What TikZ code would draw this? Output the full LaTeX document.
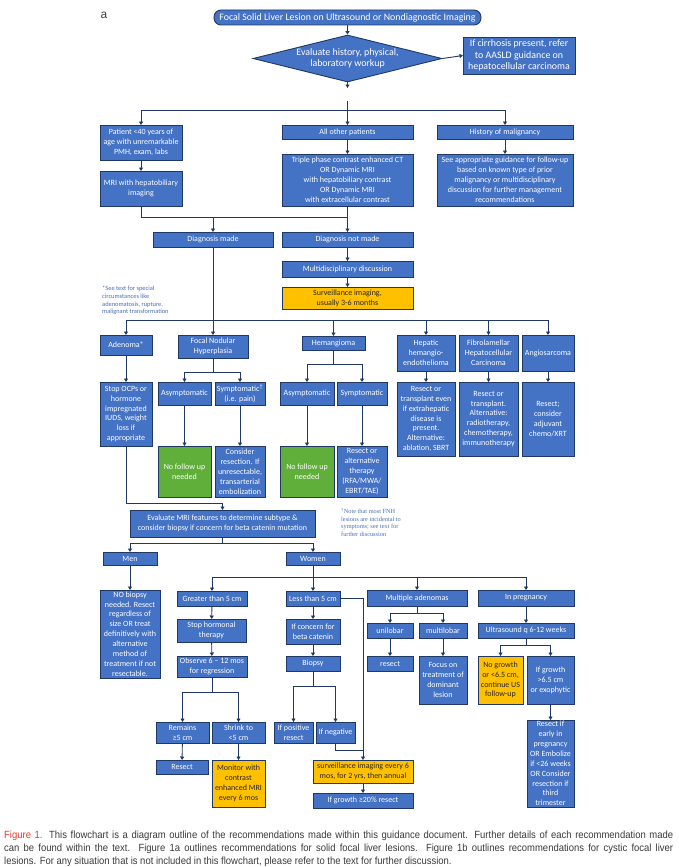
\documentclass[tikz,border=0pt]{standalone}
\usepackage{fontspec}
\setmainfont{Carlito}
\newfontfamily\capfont[FakeStretch=0.91]{Liberation Sans}
\newfontfamily\notefont{Liberation Serif}
\newfontfamily\afont{Liberation Sans}
\usetikzlibrary{arrows.meta,shapes.geometric}
\definecolor{bfill}{HTML}{4472C4}
\definecolor{bdraw}{HTML}{203864}
\definecolor{lnav}{HTML}{1F3864}
\definecolor{yfill}{HTML}{FFC000}
\definecolor{gfill}{HTML}{5FAF3A}
\definecolor{notec}{HTML}{4A6FB5}
\definecolor{capred}{HTML}{E2392D}
\definecolor{capgray}{HTML}{3A3A3A}
\tikzset{
 box/.style={rectangle,draw=bdraw,fill=bfill,text=white,line width=0.9pt,inner sep=0pt,outer sep=0pt,align=center,font=\fontsize{8.0}{9.9}\selectfont},
 ybox/.style={fill=yfill,text=black!85},
 gbox/.style={fill=gfill},
 big/.style={font=\fontsize{9.9}{11.5}\selectfont},
 arr/.style={draw=lnav,line width=0.9pt,-{Triangle[length=3.5pt,width=4pt]}},
 ln/.style={draw=lnav,line width=0.9pt},
}
\newcommand{\bx}[7][]{\node[box,#1,minimum width={(#5)-(#3)},minimum height={(#6)-(#4)}] (#2) at ({((#3)+(#5))/2},{((#4)+(#6))/2}) {#7};}
\begin{document}
\begin{tikzpicture}[x=1pt,y=-1pt]
\fill[white] (0,0) rectangle (679,867);
\useasboundingbox (0,0) rectangle (679,867);
\node[font=\afont\fontsize{12}{12}\selectfont,text=black!75,anchor=center] (lbl) at (104,15) {a};
% top
\bx[big,rounded corners=7pt]{title}{214}{10}{481}{25}{Focal Solid Liver Lesion on Ultrasound or Nondiagnostic Imaging}
\node[diamond,draw=bdraw,fill=bfill,text=white,line width=0.9pt,aspect=4,minimum width=189,minimum height=47,inner sep=0pt,big,align=center] (dia) at (347.5,58.5) {Evaluate history, physical,\\laboratory workup};
\bx[big]{cirr}{463}{37}{575}{74}{If cirrhosis present, refer\\to AASLD guidance on\\hepatocellular carcinoma}
% row 2
\bx{patient}{100}{125}{182}{160}{Patient <40 years of\\age with unremarkable\\PMH, exam, labs}
\bx{mri}{100}{171}{182}{206}{MRI with hepatobiliary\\imaging}
\bx{allother}{282}{125}{413}{139}{All other patients}
\bx{triple}{282}{154}{413}{206}{Triple phase contrast enhanced CT\\OR Dynamic MRI\\with hepatobiliary contrast\\OR Dynamic MRI\\with extracellular contrast}
\bx{hist}{437}{125}{573}{139}{History of malignancy}
\bx{seeapp}{437}{154}{573}{206}{See appropriate guidance for follow-up\\based on known type of prior\\malignancy or multidisciplinary\\discussion for further management\\recommendations}
\bx{dxmade}{153}{232}{273}{247}{Diagnosis made}
\bx{dxnot}{282}{232}{413}{247}{Diagnosis not made}
\bx{multi}{282}{261}{413}{277}{Multidisciplinary discussion}
\bx[ybox]{surv}{282}{287}{413}{309}{Surveillance imaging,\\usually 3-6 months}
\node[anchor=north west,align=left,text=notec,inner sep=0pt,font=\fontsize{6.4}{7.7}\selectfont] (note1) at (102,286) {*See text for special\\circumstances like\\adenomatosis, rupture,\\malignant transformation};
% diagnoses
\bx{adenoma}{100}{335}{152}{355}{Adenoma*}
\bx{fnh}{178}{335}{248}{358}{Focal Nodular\\Hyperplasia}
\bx{hem}{302}{336}{365}{350}{Hemangioma}
\bx{hhe}{397}{335}{455}{371}{Hepatic\\hemangio-\\endothelioma}
\bx{fib}{459}{335}{518}{371}{Fibrolamellar\\Hepatocellular\\Carcinoma}
\bx{angio}{522}{335}{574}{371}{Angiosarcoma}
\bx{stopocp}{100}{382}{152}{446}{Stop OCPs or\\hormone\\impregnated\\IUDS, weight\\loss if\\appropriate}
\bx{asym1}{158}{382}{211}{405}{Asymptomatic}
\bx{symp1}{215}{382}{265}{405}{Symptomatic\textsuperscript{†}\\(i.e. pain)}
\bx{asym2}{280}{382}{334}{405}{Asymptomatic}
\bx{symp2}{337}{382}{387}{405}{Symptomatic}
\bx{hhe2}{397}{382}{455}{456}{Resect or\\transplant even\\if extrahepatic\\disease is\\present.\\Alternative:\\ablation, SBRT}
\bx{fib2}{459}{382}{518}{456}{Resect or\\transplant.\\Alternative:\\radiotherapy,\\chemotherapy,\\immunotherapy}
\bx{angio2}{522}{382}{574}{456}{Resect;\\consider\\adjuvant\\chemo/XRT}
\bx[gbox]{nofu1}{158}{446}{211}{497}{No follow up\\needed}
\bx{consider}{215}{446}{265}{497}{Consider\\resection. If\\unresectable,\\transarterial\\embolization}
\bx[gbox]{nofu2}{280}{446}{334}{497}{No follow up\\needed}
\bx{resalt}{337}{446}{387}{497}{Resect or\\alternative\\therapy\\(RFA/MWA/\\EBRT/TAE)}
\node[anchor=north west,align=left,text=notec,inner sep=0pt,font=\notefont\fontsize{6.3}{7.5}\selectfont] (note2) at (341,508) {\textsuperscript{†}Note that most FNH\\lesions are incidental to\\symptoms; see text for\\further discussion};
% adenoma workup
\bx{evalmri}{130}{510}{315}{537}{Evaluate MRI features to determine subtype \&\\consider biopsy if concern for beta catenin mutation}
\bx{men}{103}{552}{157}{565}{Men}
\bx{women}{286}{552}{340}{565}{Women}
\bx{nobiop}{100}{590}{160}{678}{NO biopsy\\needed. Resect\\regardless of\\size OR treat\\definitively with\\alternative\\method of\\treatment if not\\resectable.}
\bx{gt5}{177}{591}{247}{606}{Greater than 5 cm}
\bx{stophorm}{177}{619}{246}{642}{Stop hormonal\\therapy}
\bx{observe}{177}{656}{247}{677}{Observe 6 – 12 mos\\for regression}
\bx{remains}{156}{722}{209}{743}{Remains\\≥5 cm}
\bx{shrink}{212}{722}{265}{743}{Shrink to\\<5 cm}
\bx{resect1}{156}{760}{208}{774}{Resect}
\bx[ybox]{monitor}{212}{760}{265}{807}{Monitor with\\contrast\\enhanced MRI\\every 6 mos}
\bx{lt5}{286}{591}{340}{606}{Less than 5 cm}
\bx{concern}{286}{619}{340}{644}{If concern for\\beta catenin}
\bx{biopsy}{286}{656}{340}{671}{Biopsy}
\bx{ifpos}{274}{722}{313}{743}{If positive\\resect}
\bx{ifneg}{316}{722}{355}{743}{If negative}
\bx[ybox]{surv2}{313}{760}{413}{783}{surveillance imaging every 6\\mos, for 2 yrs, then annual}
\bx{growth}{313}{793}{413}{808}{If growth ≥20\% resect}
\bx{multad}{367}{590}{467}{606}{Multiple adenomas}
\bx{unilobar}{367}{623}{413}{638}{unilobar}
\bx{multilobar}{419}{623}{467}{638}{multilobar}
\bx{resect2}{367}{656}{413}{671}{resect}
\bx{focus}{419}{656}{467}{704}{Focus on\\treatment of\\dominant\\lesion}
\bx{preg}{478}{590}{574}{606}{In pregnancy}
\bx{us}{478}{623}{574}{638}{Ultrasound q 6-12 weeks}
\bx[ybox]{nogrowth}{478}{656}{523}{704}{No growth\\or <6.5 cm,\\continue US\\follow-up}
\bx{ifgrowth}{527}{656}{574}{704}{If growth\\>6.5 cm\\or exophytic}
\bx{resectif}{527}{720}{574}{807}{Resect if\\early in\\pregnancy\\OR Embolize\\if <26 weeks\\OR Consider\\resection if\\third\\trimester}
% junction coordinates
\coordinate (d1) at (347.5,88);
\coordinate (d2) at (347.5,101);
\coordinate (b1) at (347.5,110);
\coordinate (j1) at (347.5,217);
\coordinate (j2) at (213,320);
\coordinate (jf) at (213,372);
\coordinate (jh) at (333.5,364);
\coordinate (j3) at (222.5,503);
\coordinate (j4) at (222.5,543);
\coordinate (jw) at (313,577);
\coordinate (jo) at (212,692);
\coordinate (jb) at (313,686);
\coordinate (jn) at (363,750);
\coordinate (jm) at (417,613);
\coordinate (ju) at (526,645);
% connectors
\draw[arr] (title) -- (dia);
\draw[arr] (dia.east) -- (cirr.west);
\draw[arr] (dia.south) -- (d1);
\draw[ln] (d2) -- (b1);
\draw[arr] (b1) -| (patient.north);
\draw[arr] (b1) -- (allother.north);
\draw[arr] (b1) -| (hist.north);
\draw[arr] (patient) -- (mri);
\draw[arr] (allother) -- (triple);
\draw[arr] (hist) -- (seeapp);
\draw[ln] (mri.south) |- (j1);
\draw[ln] (triple.south) -- (j1);
\draw[arr] (j1) -| (dxmade.north);
\draw[arr] (j1) -- (dxnot.north);
\draw[arr] (dxnot) -- (multi);
\draw[arr] (multi) -- (surv);
\draw[ln] (dxmade.south) -- (j2);
\draw[arr] (j2) -| (adenoma.north);
\draw[arr] (j2) -- (fnh.north);
\draw[arr] (j2) -| (hem.north);
\draw[arr] (j2) -| (hhe.north);
\draw[arr] (j2) -| (fib.north);
\draw[arr] (j2) -| (angio.north);
\draw[arr] (adenoma) -- (stopocp);
\draw[ln] (fnh.south) -- (jf);
\draw[arr] (jf) -| (asym1.north);
\draw[arr] (jf) -| (symp1.north);
\draw[ln] (hem.south) -- (jh);
\draw[arr] (jh) -| (asym2.north);
\draw[arr] (jh) -| (symp2.north);
\draw[arr] (hhe) -- (hhe2);
\draw[arr] (fib) -- (fib2);
\draw[arr] (angio) -- (angio2);
\draw[arr] (asym1) -- (nofu1);
\draw[arr] (symp1) -- (consider);
\draw[arr] (asym2) -- (nofu2);
\draw[arr] (symp2) -- (resalt);
\draw[ln] (stopocp.south) |- (j3);
\draw[arr] (j3) -- (evalmri.north);
\draw[ln] (evalmri.south) -- (j4);
\draw[arr] (j4) -| (men.north);
\draw[arr] (j4) -| (women.north);
\draw[arr] (men) -- (nobiop);
\draw[ln] (women.south) -- (jw);
\draw[arr] (jw) -| (gt5.north);
\draw[arr] (jw) -- (lt5.north);
\draw[arr] (jw) -| (multad.north);
\draw[arr] (jw) -| (preg.north);
\draw[arr] (gt5) -- (stophorm);
\draw[arr] (stophorm) -- (observe);
\draw[ln] (observe.south) -- (jo);
\draw[arr] (jo) -| (remains.north);
\draw[arr] (jo) -| (shrink.north);
\draw[arr] (remains) -- (resect1);
\draw[arr] (shrink) -- (monitor);
\draw[arr] (lt5) -- (concern);
\draw[arr] (concern) -- (biopsy);
\draw[ln] (biopsy.south) -- (jb);
\draw[arr] (jb) -| (ifpos.north);
\draw[arr] (jb) -| (ifneg.north);
\draw[arr] (lt5.east) -| (surv2.north);
\draw[ln] (ifneg.south) |- (jn);
\draw[arr] (surv2) -- (growth);
\draw[ln] (multad.south) -- (jm);
\draw[arr] (jm) -| (unilobar.north);
\draw[arr] (jm) -| (multilobar.north);
\draw[arr] (unilobar) -- (resect2);
\draw[arr] (multilobar) -- (focus);
\draw[arr] (preg) -- (us);
\draw[ln] (us.south) -- (ju);
\draw[arr] (ju) -| (nogrowth.north);
\draw[arr] (ju) -| (ifgrowth.north);
\draw[arr] (ifgrowth) -- (resectif);
% caption
\node[anchor=base west,inner sep=0pt,font=\capfont\fontsize{10.4}{13}\selectfont,text=capgray] (cap1) at (4,838) {\makebox[669pt][s]{\textcolor{capred}{Figure 1.} This flowchart is a diagram outline of the recommendations made within this guidance document. Further details of each recommendation made}};
\node[anchor=base west,inner sep=0pt,font=\capfont\fontsize{10.4}{13}\selectfont,text=capgray] (cap2) at (4,851) {\makebox[669pt][s]{can be found within the text. Figure 1a outlines recommendations for solid focal liver lesions. Figure 1b outlines recommendations for cystic focal liver}};
\node[anchor=base west,inner sep=0pt,font=\capfont\fontsize{10.4}{13}\selectfont,text=capgray] (cap3) at (4,864) {lesions. For any situation that is not included in this flowchart, please refer to the text for further discussion.};
\end{tikzpicture}
\end{document}
